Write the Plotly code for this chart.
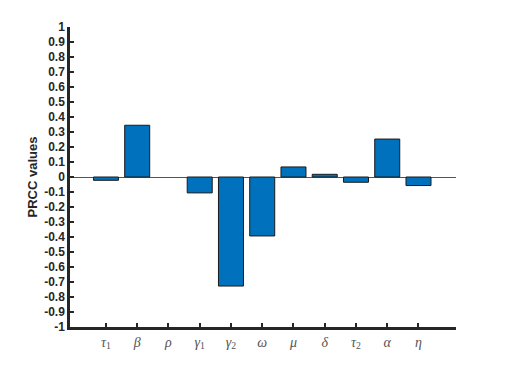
import plotly.graph_objects as go

# parameter names (greek, italic with subscripts) and PRCC values
params = ["<i>τ</i><sub>1</sub>", "<i>β</i>", "<i>ρ</i>", "<i>γ</i><sub>1</sub>",
          "<i>γ</i><sub>2</sub>", "<i>ω</i>", "<i>μ</i>", "<i>δ</i>",
          "<i>τ</i><sub>2</sub>", "<i>α</i>", "<i>η</i>"]
prcc = [-0.022, 0.345, 0.0, -0.106, -0.727, -0.393, 0.067, 0.018, -0.035, 0.253, -0.057]
positions = list(range(1, 12))

y_ticks = [1, 0.9, 0.8, 0.7, 0.6, 0.5, 0.4, 0.3, 0.2, 0.1, 0,
           -0.1, -0.2, -0.3, -0.4, -0.5, -0.6, -0.7, -0.8, -0.9, -1]
y_labels = ["1", "0.9", "0.8", "0.7", "0.6", "0.5", "0.4", "0.3", "0.2", "0.1", "0",
            "-0.1", "-0.2", "-0.3", "-0.4", "-0.5", "-0.6", "-0.7", "-0.8", "-0.9", "-1"]

# no visible edge for a zero-height bar
edge_w = [1 if v != 0 else 0 for v in prcc]

fig = go.Figure()
fig.add_trace(go.Bar(
    x=positions, y=prcc, width=0.8,
    marker=dict(color="#0072BD", line=dict(color="#1a1a1a", width=edge_w)),
))

# page body has an 8px margin, so shift the plot area up/left by that much
fig.update_layout(
    width=513, height=365,
    margin=dict(l=62, r=65, t=17, b=46),
    paper_bgcolor="white", plot_bgcolor="white",
    showlegend=False,
    font=dict(family="Liberation Sans, Arial", color="#262626"),
)
fig.update_xaxes(
    range=[-0.15, 12.2],
    tickvals=positions, ticktext=params,
    tickfont=dict(family="Liberation Serif, Times New Roman", size=14, color="#555555"),
    showline=True, linecolor="#262626", linewidth=2.5,
    ticks="inside", ticklen=4, tickwidth=2, tickcolor="#262626",
    showgrid=False, zeroline=False,
)
fig.update_yaxes(
    range=[-1, 1],
    tickvals=y_ticks, ticktext=y_labels,
    tickfont=dict(size=12, color="#262626", weight="bold"),
    title=dict(text="<b>PRCC values</b>", font=dict(size=13, color="#262626"), standoff=4),
    showline=True, linecolor="#262626", linewidth=2.5,
    ticks="inside", ticklen=4, tickwidth=2, tickcolor="#262626",
    showgrid=False, zeroline=True, zerolinecolor="#555555", zerolinewidth=1,
)

fig.write_html("out.html")
